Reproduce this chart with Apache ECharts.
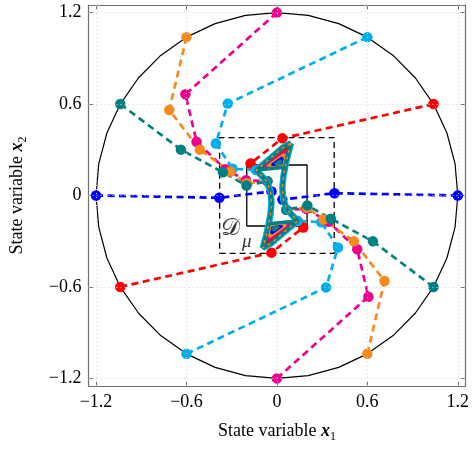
<!DOCTYPE html>
<html><head><meta charset="utf-8">
<script src="https://cdn.jsdelivr.net/npm/echarts@6/dist/echarts.min.js"></script>
<style>html,body{margin:0;padding:0;background:#fff}#c{width:472px;height:450px}</style>
</head><body><div id="c"></div>
<script>
// ---------- data ----------
const tickValues = [-1.2, -0.6, 0, 0.6, 1.2];
const axisRange = [-1.25, 1.25];

// reference circle of radius 1.2 (polygon, 10 degree steps)
const circlePts = [
  [1.2,0],[1.182,0.208],[1.128,0.410],[1.039,0.6],[0.919,0.771],[0.771,0.919],[0.6,1.039],[0.410,1.128],[0.208,1.182],[0,1.2],
  [-0.208,1.182],[-0.410,1.128],[-0.6,1.039],[-0.771,0.919],[-0.919,0.771],[-1.039,0.6],[-1.128,0.410],[-1.182,0.208],[-1.2,0],
  [-1.182,-0.208],[-1.128,-0.410],[-1.039,-0.6],[-0.919,-0.771],[-0.771,-0.919],[-0.6,-1.039],[-0.410,-1.128],[-0.208,-1.182],[0,-1.2],
  [0.208,-1.182],[0.410,-1.128],[0.6,-1.039],[0.771,-0.919],[0.919,-0.771],[1.039,-0.6],[1.128,-0.410],[1.182,-0.208],[1.2,0]
];

// trajectories
const blueA    = [[-1.2,0],[-0.382,-0.015],[-0.036,0.027]];
const blueB    = [[1.2,0],[0.382,0.015],[0.036,-0.027]];
const redA     = [[1.039,0.6],[0.036,0.375],[-0.175,0.21],[-0.137,0.167]];
const redB     = [[-1.039,-0.6],[-0.036,-0.375],[0.175,-0.21],[0.137,-0.167]];
const cyanA    = [[0.6,1.039],[-0.326,0.603],[-0.405,0.341],[-0.294,0.175],[-0.137,0.167]];
const cyanB    = [[-0.6,-1.039],[0.326,-0.603],[0.405,-0.341],[0.294,-0.175],[0.137,-0.167]];
const magentaA = [[0,1.2],[-0.607,0.664],[-0.533,0.353],[-0.342,0.172],[-0.205,0.10],[-0.063,0.093]];
const magentaB = [[0,-1.2],[0.607,-0.664],[0.533,-0.353],[0.342,-0.172],[0.195,-0.088],[0.063,-0.093]];
const orangeA  = [[-0.6,1.039],[-0.714,0.561],[-0.511,0.301],[-0.31,0.158],[-0.2,0.08],[-0.063,0.093]];
const orangeB  = [[0.6,-1.039],[0.714,-0.561],[0.511,-0.301],[0.31,-0.158],[0.2,-0.08],[0.063,-0.093]];
const tealA    = [[-1.039,0.6],[-0.637,0.301],[-0.358,0.152],[-0.202,0.065],[-0.063,0.093]];
const tealB    = [[1.039,-0.6],[0.637,-0.301],[0.358,-0.152],[0.202,-0.065],[0.063,-0.093]];

// limit set (hourglass) outline
const cycleOutline = [
  [0.094,0.344],[0.073,0.268],[0.058,0.203],[0.043,0.126],[0.036,0.050],[0.042,-0.027],[0.068,-0.093],[0.137,-0.167],
  [0.041,-0.246],[-0.036,-0.312],[-0.094,-0.344],[-0.073,-0.268],[-0.058,-0.203],[-0.043,-0.126],[-0.036,-0.050],
  [-0.042,0.027],[-0.068,0.093],[-0.137,0.167],[-0.041,0.246],[0.036,0.312],[0.094,0.344]
];
const wedgeBaseUp   = [[-0.137,0.167],[0.055,0.185]];
const wedgeBaseDown = [[0.137,-0.167],[-0.055,-0.185]];
const wedgeRedUp    = [[0.078,0.315],[-0.11,0.175],[0.05,0.19],[0.078,0.315]];
const wedgeMagUp    = [[0.066,0.293],[-0.085,0.183],[0.045,0.196],[0.066,0.293]];
const wedgeOrUp     = [[0.052,0.272],[-0.06,0.192],[0.038,0.203],[0.052,0.272]];
const wedgeBlueUp   = [[0.038,0.25],[-0.035,0.2],[0.03,0.21],[0.038,0.25]];
const wedgeCoreUp   = [[0.028,0.232],[-0.012,0.205],[0.024,0.212],[0.028,0.232]];
const wedgeRedDn    = [[-0.078,-0.315],[0.11,-0.175],[-0.05,-0.19],[-0.078,-0.315]];
const wedgeMagDn    = [[-0.066,-0.293],[0.085,-0.183],[-0.045,-0.196],[-0.066,-0.293]];
const wedgeOrDn     = [[-0.052,-0.272],[0.06,-0.192],[-0.038,-0.203],[-0.052,-0.272]];
const wedgeBlueDn   = [[-0.038,-0.25],[0.035,-0.2],[-0.03,-0.21],[-0.038,-0.25]];
const wedgeCoreDn   = [[-0.028,-0.232],[0.012,-0.205],[-0.024,-0.212],[-0.028,-0.232]];

// region boxes
const outerBox = [[-0.38,-0.38],[0.38,-0.38],[0.38,0.38],[-0.38,0.38],[-0.38,-0.38]];
const innerBox = [[-0.2,-0.2],[0.2,-0.2],[0.2,0.2],[-0.2,0.2],[-0.2,-0.2]];

// ---------- style ----------
const C = {blue:'#0000FF', red:'#FF0000', cyan:'#00AEEF', magenta:'#EC008C', orange:'#F7891D', teal:'#008080'};
const FONT = 'Liberation Serif';

function traj(data, color){
  return {type:'line', data, z:3, symbol:'circle', symbolSize:10.5, showSymbol:true,
    itemStyle:{color}, lineStyle:{color, width:2.7, type:[7,4.5]}, animation:false, silent:true};
}
function solid(data, color, width, z, dash){
  return {type:'line', data, z, symbol:'none', lineStyle:{color, width, type: dash||'solid'}, animation:false, silent:true};
}
const fmt = v => v === 0 ? '0' : (v < 0 ? '\u2212' : '') + Math.abs(v).toFixed(1);

const nameRich = {
  a:{fontFamily:FONT, fontSize:18, color:'#000'},
  b:{fontFamily:FONT, fontSize:18, color:'#000', fontStyle:'italic', fontWeight:'bold'},
  s:{fontFamily:FONT, fontSize:12, color:'#000', padding:[11,0,0,0]}
};

const gridLines = {type:'line', data:[], silent:true, animation:false, z:1,
  markLine:{silent:true, symbol:'none', label:{show:false}, animation:false,
    lineStyle:{color:'#d2d2d2', width:1, type:[1,3]},
    data: tickValues.map(v=>({xAxis:v})).concat(tickValues.map(v=>({yAxis:v})))}};

const baseAxis = {
  type:'value', min:axisRange[0], max:axisRange[1],
  axisLine:{show:true, onZero:false, lineStyle:{color:'#707070', width:1.2}},
  axisTick:{show:true, inside:true, length:5, customValues:tickValues, lineStyle:{color:'#707070', width:1}},
  splitLine:{show:false}
};

const option = {
  backgroundColor:'#fff',
  animation:false,
  grid:{left:87, top:5, width:381, height:381},
  xAxis:[
    Object.assign({}, baseAxis, {position:'bottom',
      axisLabel:{customValues:tickValues, formatter:fmt, fontFamily:FONT, fontSize:18, color:'#000', margin:7},
      name:'{a|State variable }{b|x}{s|1}', nameLocation:'middle', nameGap:34, nameTextStyle:{rich:nameRich}}),
    Object.assign({}, baseAxis, {position:'top', axisLabel:{show:false}})
  ],
  yAxis:[
    Object.assign({}, baseAxis, {position:'left',
      axisLabel:{customValues:tickValues, formatter:fmt, fontFamily:FONT, fontSize:18, color:'#000', margin:7},
      name:'{a|State variable }{b|x}{s|2}', nameLocation:'middle', nameGap:60, nameRotate:90, nameTextStyle:{rich:nameRich}}),
    Object.assign({}, baseAxis, {position:'right', axisLabel:{show:false}})
  ],
  series:[
    gridLines,
    solid(circlePts, '#000', 1.2, 2),
    solid(outerBox, '#000', 1.3, 2, [6,4]),
    solid(innerBox, '#000', 1.3, 2),
    traj(blueA, C.blue), traj(blueB, C.blue),
    traj(redA, C.red), traj(redB, C.red),
    traj(cyanA, C.cyan), traj(cyanB, C.cyan),
    traj(magentaA, C.magenta), traj(magentaB, C.magenta),
    traj(orangeA, C.orange), traj(orangeB, C.orange),
    traj(tealA, C.teal), traj(tealB, C.teal),
    solid(cycleOutline, C.cyan, 6.5, 4),
    solid(wedgeRedUp, C.red, 3, 5), solid(wedgeMagUp, C.magenta, 3, 5),
    solid(wedgeOrUp, C.orange, 3, 5), solid(wedgeBlueUp, C.blue, 2.5, 5), solid(wedgeCoreUp, C.teal, 3, 5),
    solid(wedgeRedDn, C.red, 3, 5), solid(wedgeMagDn, C.magenta, 3, 5),
    solid(wedgeOrDn, C.orange, 3, 5), solid(wedgeBlueDn, C.blue, 2.5, 5), solid(wedgeCoreDn, C.teal, 3, 5),
    solid(cycleOutline, C.teal, 4.2, 6),
    solid(wedgeBaseUp, C.teal, 3.5, 6), solid(wedgeBaseDown, C.teal, 3.5, 6),
    solid(cycleOutline, C.orange, 1.4, 7, [3,4]),
    {type:'scatter', z:8, silent:true, animation:false, symbolSize:0,
      data:[
        {value:[-0.31,-0.215], label:{show:true, position:'inside', formatter:'\uD835\uDC9F', fontFamily:'DejaVu Serif', fontSize:24, color:'#000'}},
        {value:[-0.20,-0.305], label:{show:true, position:'inside', formatter:'\u03BC', fontFamily:FONT, fontStyle:'italic', fontSize:19, color:'#000'}}
      ]}
  ]
};
echarts.init(document.getElementById('c'), null, {renderer:'canvas'}).setOption(option);
</script></body></html>
